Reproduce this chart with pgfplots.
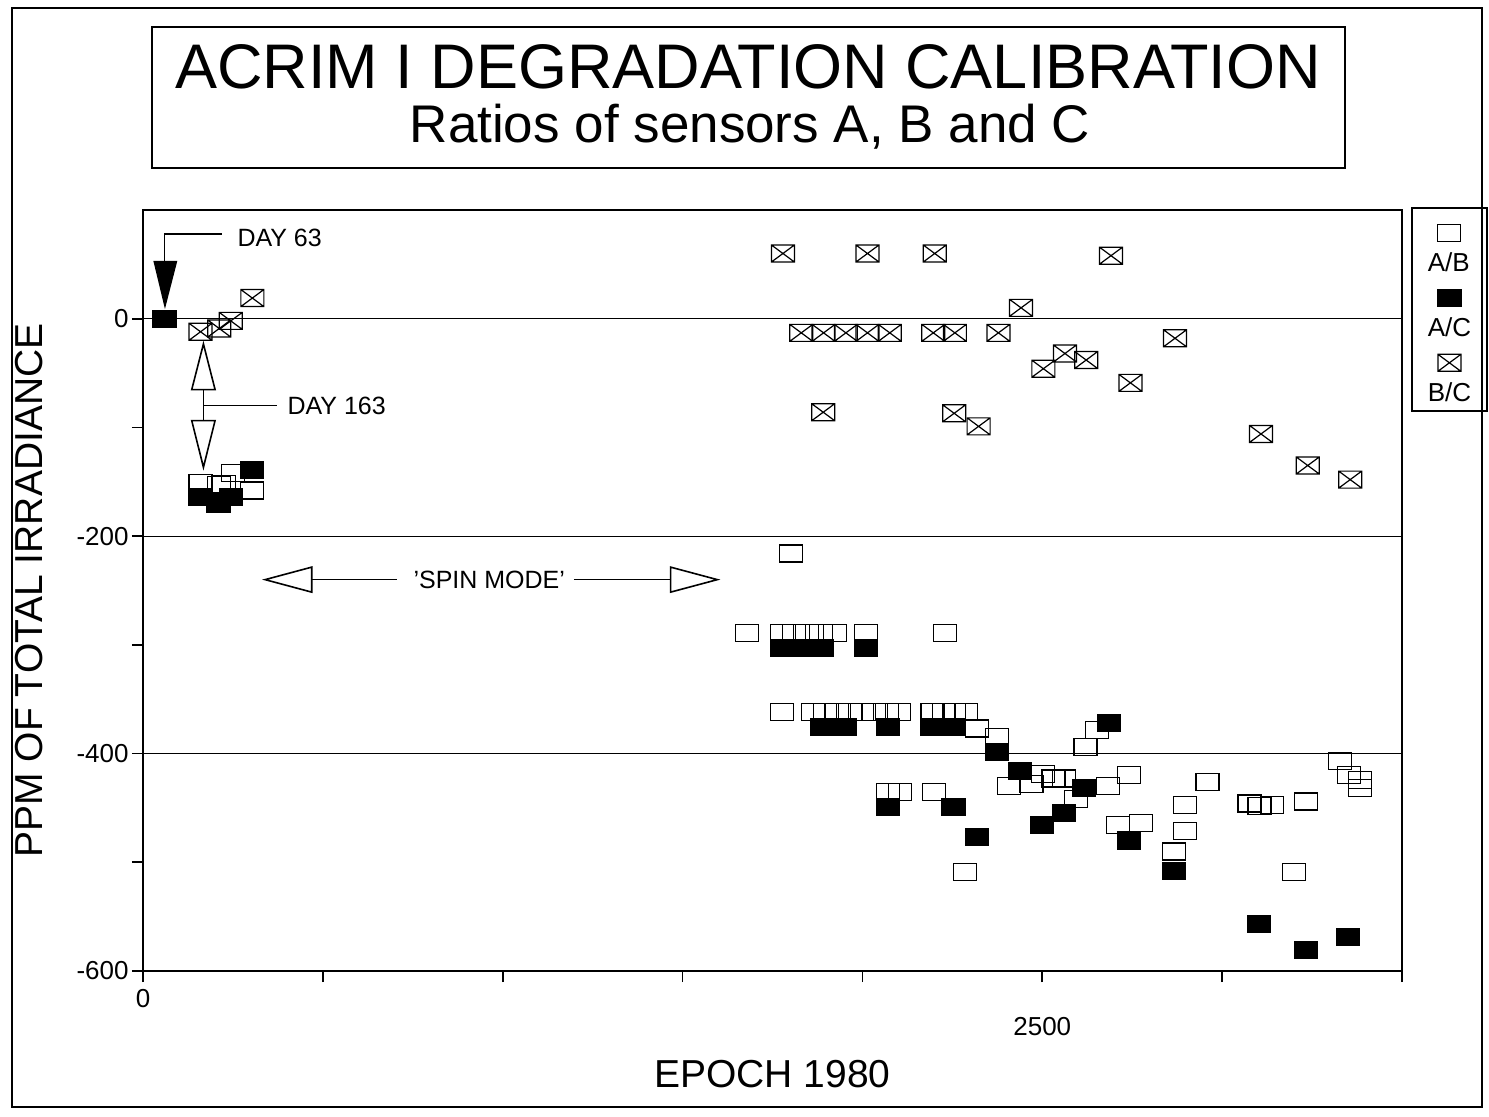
\documentclass[border=0pt]{standalone}
\usepackage{fontspec}
\setmainfont{Liberation Sans}
\usepackage{pgfplots}
\pgfplotsset{compat=1.18}

\pgfdeclareplotmark{rectopen}{%
  \pgfpathrectangle{\pgfpoint{-5.75pt}{-4.25pt}}{\pgfpoint{11.5pt}{8.5pt}}%
  \pgfusepathqstroke}
\pgfdeclareplotmark{rectfill}{%
  \pgfpathrectangle{\pgfpoint{-5.75pt}{-4.25pt}}{\pgfpoint{11.5pt}{8.5pt}}%
  \pgfusepathqfillstroke}
\pgfdeclareplotmark{rectx}{%
  \pgfpathrectangle{\pgfpoint{-5.75pt}{-4.25pt}}{\pgfpoint{11.5pt}{8.5pt}}%
  \pgfpathmoveto{\pgfpoint{-5.75pt}{-4.25pt}}\pgfpathlineto{\pgfpoint{5.75pt}{4.25pt}}%
  \pgfpathmoveto{\pgfpoint{-5.75pt}{4.25pt}}\pgfpathlineto{\pgfpoint{5.75pt}{-4.25pt}}%
  \pgfusepathqstroke}

\begin{document}
\begin{tikzpicture}
\begin{axis}[
  at={(71.5pt,-485.5pt)}, anchor=south west,
  scale only axis, width=629.5pt, height=380.5pt,
  xmin=0, xmax=3500, ymin=-600, ymax=100,
  axis line style={line width=0.9pt},
  tick style={black, line width=0.8pt},
  major tick length=5.5pt, minor tick length=5.5pt,
  tick align=outside, xtick pos=bottom, ytick pos=left,
  xtick={0,500,...,3500}, xticklabels={0,,,,,,,},
  extra x ticks={2500}, extra x tick labels={2500},
  extra x tick style={tick label style={yshift=-14pt}},
  ytick={-600,-400,-200,0}, yticklabels={-600,-400,-200,0},
  minor ytick={-500,-300,-100},
  ymajorgrids, major grid style={black, line width=0.6pt},
  /pgf/number format/assume math mode=true,
  ticklabel style={font=\fontsize{13}{15}\selectfont},
  yticklabel style={inner sep=1.5pt},
  xlabel={EPOCH 1980}, ylabel={PPM OF TOTAL IRRADIANCE},
  label style={font=\fontsize{19.5}{22}\selectfont},
  xlabel style={at={(axis description cs:0.5,-0.1537)}, anchor=base},
  ylabel style={at={(axis description cs:-0.0802,0.5)}, anchor=base},
  legend style={at={(axis description cs:1.00715,1.00394)}, anchor=north west,
    draw=black, line width=0.8pt, inner xsep=8pt, inner ysep=2pt,
    row sep=0pt, column sep=0pt, font=\fontsize{13}{15}\selectfont,
    nodes={inner sep=0pt, text height=30pt, text depth=2.5pt, anchor=base west}},
  legend cell align=left,
]
\addplot[only marks, mark=rectopen, mark options={line width=0.6pt},
  legend image code/.code={\begin{scope}[overlay, shift={(10.6pt,19.5pt)}, line width=0.6pt]\pgfuseplotmark{rectopen}\end{scope}}]
table[row sep=\\]{
x y\\
160 -151\\ 212 -153\\ 226 -152\\ 251 -142\\ 304 -158\\
1678 -289\\ 1776 -289\\ 1809 -289\\ 1845 -289\\ 1884 -289\\ 1923 -289\\
2011 -289\\ 2229 -289\\ 1801 -216\\
1776 -362\\ 1862 -362\\ 1895 -362\\ 1929 -362\\ 1965 -362\\ 1998 -362\\
2032 -362\\ 2068 -362\\ 2101 -362\\ 2195 -362\\ 2226 -362\\ 2255 -362\\ 2288 -362\\
2318 -377\\ 2374 -385\\
2072 -435\\ 2104 -435\\ 2198 -435\\ 2285 -509\\
2408 -430\\ 2470 -428\\ 2501 -419\\ 2531 -423\\ 2561 -423\\ 2594 -442\\
2620 -394\\ 2652 -378\\ 2682 -430\\ 2742 -420\\ 2710 -466\\ 2775 -464\\
2959 -426\\ 2896 -447\\ 2896 -471\\ 2866 -490\\
3076 -446\\ 3104 -448\\ 3139 -447\\ 3234 -444\\ 3200 -509\\
3327 -407\\ 3353 -420\\ 3383 -424\\ 3383 -432\\
};
\addlegendentry{A/B}
\addplot[only marks, mark=rectfill, mark options={line width=0.6pt, fill=black},
  legend image code/.code={\begin{scope}[overlay, shift={(10.8pt,19.5pt)}, line width=0.6pt, fill=black]\pgfuseplotmark{rectfill}\end{scope}}]
table[row sep=\\]{
x y\\
60 0\\
160 -164\\ 210 -170\\ 244 -164\\ 304 -139\\
1777 -303\\ 1813 -303\\ 1851 -303\\ 1887 -303\\ 2011 -303\\
1889 -375.5\\ 1920 -375.5\\ 1950 -375.5\\ 2072 -375.5\\ 2194 -375.5\\ 2225 -375.5\\ 2252 -375.5\\
2374 -398.5\\ 2072 -449\\ 2253 -449\\ 2318 -477\\
2438 -416\\ 2617 -432\\ 2685 -372\\ 2560 -455\\ 2499 -466\\ 2740 -480\\
2866 -508\\ 3102 -557\\ 3232 -581\\ 3350 -569\\
};
\addlegendentry{A/C}
\addplot[only marks, mark=rectx, mark options={line width=0.6pt},
  legend image code/.code={\begin{scope}[overlay, shift={(10.8pt,19.5pt)}, line width=0.6pt]\pgfuseplotmark{rectx}\end{scope}}]
table[row sep=\\]{
x y\\
160 -12\\ 212 -9\\ 244 -2\\ 304 19\\
1779 60\\ 1830 -13\\ 1891 -86\\ 1892 -13\\ 1954 -13\\ 2014 60\\ 2014 -13\\
2076 -13\\ 2197 -13\\ 2201 60\\ 2255 -87\\ 2257 -13\\ 2323 -99\\ 2378 -13\\
2441 10\\ 2503 -46\\ 2563 -32\\ 2622 -38\\ 2691 58\\ 2745 -59\\ 2869 -18\\
3108 -106\\ 3238 -135\\ 3356 -148\\
};
\addlegendentry{B/C}
% DAY 63 annotation
\draw[line width=0.8pt] (axis cs:219,77.8) -- (axis cs:60,77.8) -- (axis cs:60,53.3);
\fill (axis cs:28.7,53.3) -- (axis cs:95.5,53.3) -- (axis cs:61,8.9) -- cycle;
\node[anchor=base west, inner sep=0pt, font=\fontsize{12.5}{14}\selectfont] at (axis cs:261.6,66.2) {DAY 63};
% DAY 163 annotation
\draw[line width=0.8pt, fill=white] (axis cs:135.5,-65.2) -- (axis cs:200.4,-65.2) -- (axis cs:168,-23.2) -- cycle;
\draw[line width=0.8pt] (axis cs:168,-65.2) -- (axis cs:168,-93.7);
\draw[line width=0.8pt] (axis cs:168,-79.9) -- (axis cs:372,-79.9);
\draw[line width=0.8pt, fill=white] (axis cs:135.5,-93.7) -- (axis cs:200.4,-93.7) -- (axis cs:168,-136.6) -- cycle;
\node[anchor=base west, inner sep=0pt, font=\fontsize{12.5}{14}\selectfont] at (axis cs:400.8,-88.2) {DAY 163};
% SPIN MODE annotation
\draw[line width=0.8pt] (axis cs:339.5,-240) -- (axis cs:469,-228.5) -- (axis cs:469,-251.5) -- cycle;
\draw[line width=0.8pt] (axis cs:469,-240) -- (axis cs:706,-240);
\draw[line width=0.8pt] (axis cs:1197.6,-240) -- (axis cs:1466.7,-240);
\draw[line width=0.8pt] (axis cs:1596.7,-240) -- (axis cs:1466.7,-228.5) -- (axis cs:1466.7,-251.5) -- cycle;
\node[anchor=base, inner sep=0pt, font=\fontsize{12.5}{14}\selectfont] at (axis cs:962.7,-248) {'SPIN MODE'};
\end{axis}
\begin{scope}[x=0.5pt, y=-0.5pt]
\path (0,0) rectangle (1489,1117);
\draw[line width=1pt] (12,8) rectangle (1482,1107);
\draw[line width=1pt] (152,27) rectangle (1345,168);
\node[anchor=base, inner sep=0pt, font=\fontsize{31.5}{36}\selectfont] at (748,88.5) {ACRIM I DEGRADATION CALIBRATION};
\node[anchor=base, inner sep=0pt, font=\fontsize{26.5}{30}\selectfont] at (750,143) {Ratios of sensors A, B and C};
\end{scope}
\end{tikzpicture}
\end{document}
